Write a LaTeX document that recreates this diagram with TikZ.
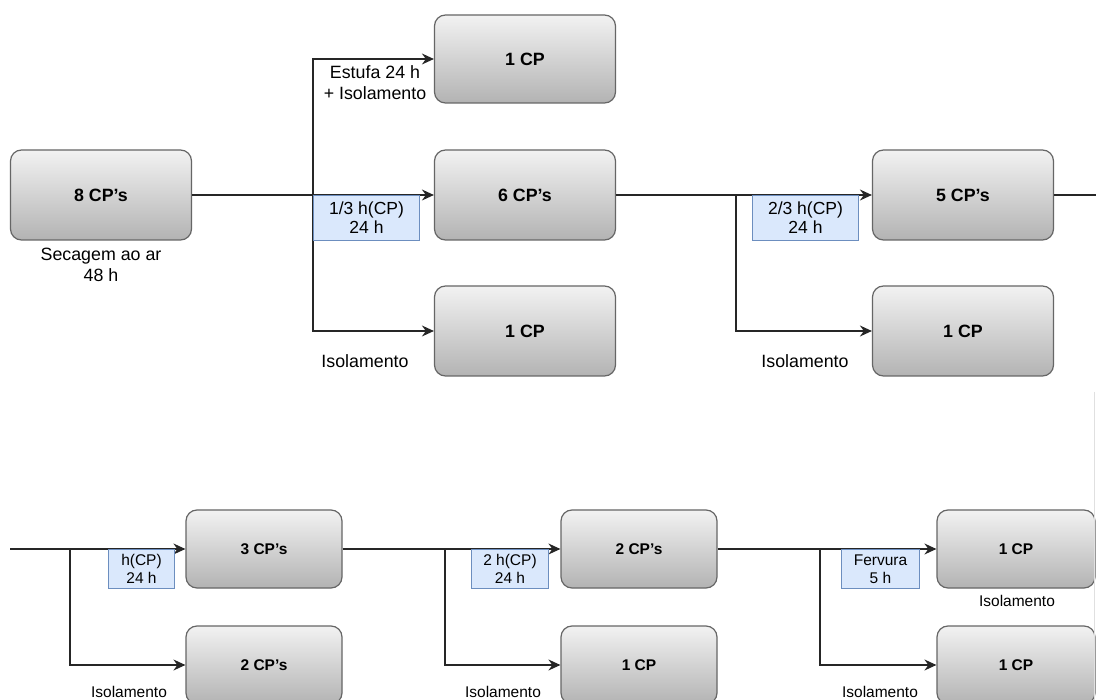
\documentclass[tikz,border=0pt]{standalone}
\usepackage{fontspec}
\setmainfont{Liberation Sans}
\usetikzlibrary{arrows.meta}
\definecolor{boxtop}{HTML}{F2F2F2}
\definecolor{boxbot}{HTML}{B3B3B3}
\definecolor{boxline}{HTML}{666666}
\definecolor{lblfill}{HTML}{DAE8FC}
\definecolor{lblline}{HTML}{6C8EBF}
\begin{document}
\begin{tikzpicture}[x=1pt,y=-1pt,
 cpbox/.style={draw=boxline, line width=1.2pt, rounded corners=11pt, top color=boxtop, bottom color=boxbot, inner sep=0pt},
 cpbig/.style={cpbox, minimum width=181pt, minimum height=90pt, font=\fontsize{17.8}{20}\selectfont\bfseries},
 cpsmall/.style={cpbox, minimum width=156pt, minimum height=78pt, font=\fontsize{15.5}{18}\selectfont\bfseries},
 lbl/.style={draw=lblline, fill=lblfill, line width=1pt, anchor=north west, inner sep=0pt, align=center, font=\fontsize{17.5}{19}\selectfont},
 lblsmall/.style={lbl, font=\fontsize{15.5}{17.5}\selectfont},
 note/.style={align=center, font=\fontsize{17.8}{21}\selectfont, inner sep=0pt},
 notesmall/.style={note, font=\fontsize{15.5}{18}\selectfont},
 ln/.style={draw=black!85, line width=1.2pt},
 arr/.style={ln, -{Stealth[length=12pt,width=11pt,inset=4pt]}}]
\useasboundingbox (0,0) rectangle (1096,700);
\clip (0,0) rectangle (1096,700);
\fill[white] (0,0) rectangle (1096,700);

% ---- top row boxes
\node[cpbig] (b8) at (101,195) {8 CP's};
\node[cpbig, minimum height=88pt] (t1) at (525,59) {1 CP};
\node[cpbig] (m6) at (525,195) {6 CP's};
\node[cpbig] (l1) at (525,331) {1 CP};
\node[cpbig] (f5) at (963,195) {5 CP's};
\node[cpbig] (g1) at (963,331) {1 CP};

% ---- bottom row boxes
\node[cpsmall] (s3) at (264,549) {3 CP's};
\node[cpsmall] (s2) at (264,665) {2 CP's};
\node[cpsmall] (r2) at (639,549) {2 CP's};
\node[cpsmall] (r1) at (639,665) {1 CP};
\node[cpsmall, minimum width=158pt] (q1) at (1016,549) {1 CP};
\node[cpsmall, minimum width=158pt] (q2) at (1016,665) {1 CP};

% ---- junctions and free ends
\coordinate (j1) at (313,195);
\coordinate (j2) at (736,195);
\coordinate (e1) at (1096,195);
\coordinate (e2) at (10,549);
\coordinate (j3) at (70,549);
\coordinate (j4) at (445,549);
\coordinate (j5) at (820,549);

% ---- connectors top
\draw[arr] (b8.east) -- (m6.west);
\draw[arr] (j1) |- (t1.west);
\draw[arr] (j1) |- (l1.west);
\draw[arr] (m6.east) -- (f5.west);
\draw[arr] (j2) |- (g1.west);
\draw[ln] (f5.east) -- (e1);

% ---- connectors bottom
\draw[arr] (e2) -- (s3.west);
\draw[arr] (j3) |- (s2.west);
\draw[arr] (s3.east) -- (r2.west);
\draw[arr] (j4) |- (r1.west);
\draw[arr] (r2.east) -- (q1.west);
\draw[arr] (j5) |- (q2.west);

% ---- blue labels
\node[lbl, minimum width=106pt, minimum height=45pt] (lb1) at (313,195) {1/3 h(CP)\\24 h};
\node[lbl, minimum width=106pt, minimum height=45pt] (lb2) at (752,195) {2/3 h(CP)\\24 h};
\node[lblsmall, minimum width=66pt, minimum height=39pt] (lb3) at (108,549) {h(CP)\\24 h};
\node[lblsmall, minimum width=77pt, minimum height=39pt] (lb4) at (471,549) {2 h(CP)\\24 h};
\node[lblsmall, minimum width=78pt, minimum height=39pt] (lb5) at (841,549) {Fervura\\5 h};

% ---- notes
\node[note] (n1) at (101,265) {Secagem ao ar\\48 h};
\node[note] (n2) at (375,83) {Estufa 24 h\\+ Isolamento};
\node[note] (n3) at (365,361) {Isolamento};
\node[note] (n4) at (805,361) {Isolamento};
\node[notesmall] (n5) at (129,692) {Isolamento};
\node[notesmall] (n6) at (503,692) {Isolamento};
\node[notesmall] (n7) at (880,692) {Isolamento};
\node[notesmall] (n8) at (1017,601) {Isolamento};

% faint right edge line
\draw[draw=black!12, line width=1pt] (1094,392) -- (1094,700);
\end{tikzpicture}
\end{document}
